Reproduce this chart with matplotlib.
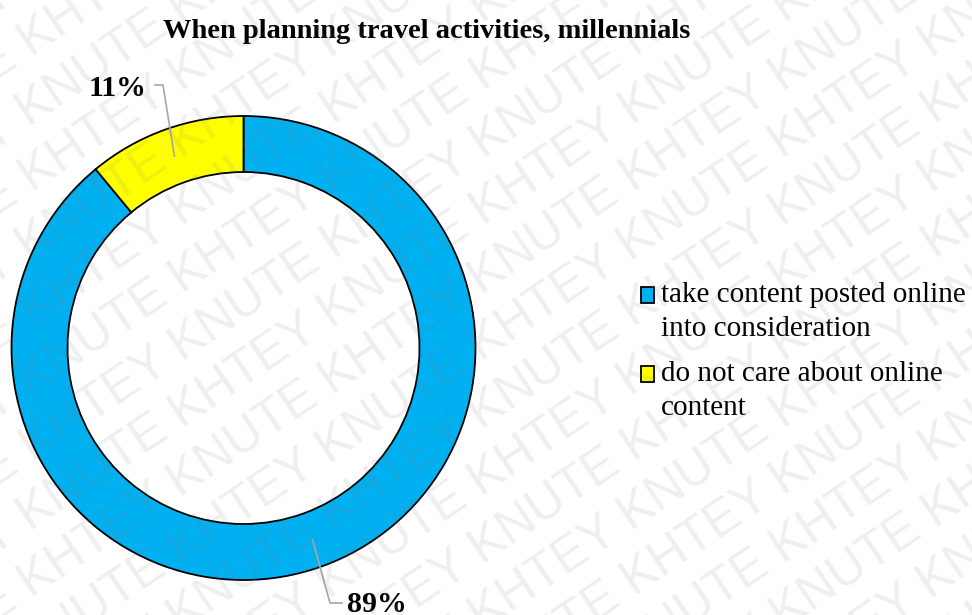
import numpy as np
import matplotlib
matplotlib.use("Agg")
import matplotlib.pyplot as plt
from matplotlib.patches import Rectangle
from matplotlib.legend_handler import HandlerPatch

# Data
categories = ["take content posted online\ninto consideration",
              "do not care about online\ncontent"]
shares = [89, 11]
colors = ["#00B0F0", "#FFFF00"]
title = "When planning travel activities, millennials"

W, H = 972, 615
fig = plt.figure(figsize=(W / 100, H / 100), dpi=100)
ax = fig.add_axes([0, 0, 1, 1])

cx, cy, R = 243.5, 267.0, 232.0
ring = 56.0

wedges, _ = ax.pie(shares, colors=colors, startangle=90, counterclock=False,
                   center=(cx, cy), radius=R,
                   wedgeprops=dict(width=ring, edgecolor="black", linewidth=1.3))
ax.set_xlim(0, W)
ax.set_ylim(0, H)
ax.set_axis_off()

serif = ["Liberation Serif", "DejaVu Serif"]

ax.text(427, H - 32, title, ha="center", va="center", fontsize=20.5,
        fontweight="bold", family=serif)

# Percentage labels with leader lines from the middle of each ring segment
mid_r = R - ring / 2
leader_col = "#A6A6A6"
for w, val in zip(wedges, shares):
    ang = np.deg2rad((w.theta1 + w.theta2) / 2)
    px, py = cx + mid_r * np.cos(ang), cy + mid_r * np.sin(ang)
    if np.sin(ang) > 0:
        xs = [px, 163, 155]
        ys = [py, H - 85, H - 85]
        ax.plot(xs, ys, color=leader_col, lw=1.2)
        ax.text(146, H - 88, f"{val}%", ha="right", va="center", fontsize=21.5,
                fontweight="bold", family=serif)
    else:
        xs = [px, 330, 342]
        ys = [py, H - 603, H - 603]
        ax.plot(xs, ys, color=leader_col, lw=1.2)
        ax.text(347, H - 604, f"{val}%", ha="left", va="center", fontsize=21.5,
                fontweight="bold", family=serif)


# Legend keys sit next to the first line of each two-line label
def top_square(legend, orig_handle, xdescent, ydescent, width, height, fontsize):
    return Rectangle((-xdescent, -ydescent + 0.55 * fontsize), width, height)


leg = ax.legend(wedges, categories, loc="upper left",
                bbox_to_anchor=(629 / W, 1 - 270 / H), frameon=False,
                prop={"family": serif, "size": 21}, handlelength=0.45,
                handleheight=0.45, handletextpad=0.25, labelspacing=0.65,
                borderaxespad=0,
                handler_map={matplotlib.patches.Wedge: HandlerPatch(patch_func=top_square)})
for txt in leg.get_texts():
    txt.set_linespacing(1.4)
for h in leg.legend_handles:
    h.set_linewidth(1.3)
    h.set_edgecolor("black")

# Diagonal watermark
ang_deg = 34.0
t = np.deg2rad(ang_deg)
dx, dy = np.cos(t), np.sin(t)
nx, ny = -np.sin(t), np.cos(t)
spacing = 56
for k in range(-14, 16):
    phrase = ("KHTEY KNUTE " if k % 2 == 0 else "KNUTE KHTEY ") * 7
    shift = (k * 37.5) % 360
    ox = -420 + nx * k * spacing + dx * shift
    oy = -220 + ny * k * spacing + dy * shift
    ax.text(ox, oy, phrase, rotation=ang_deg, rotation_mode="anchor",
            ha="left", va="baseline", fontsize=36, color="#808080",
            alpha=0.13, family=["Liberation Sans", "DejaVu Sans"],
            clip_on=True, zorder=10)

fig.savefig("out.png", dpi=100)
